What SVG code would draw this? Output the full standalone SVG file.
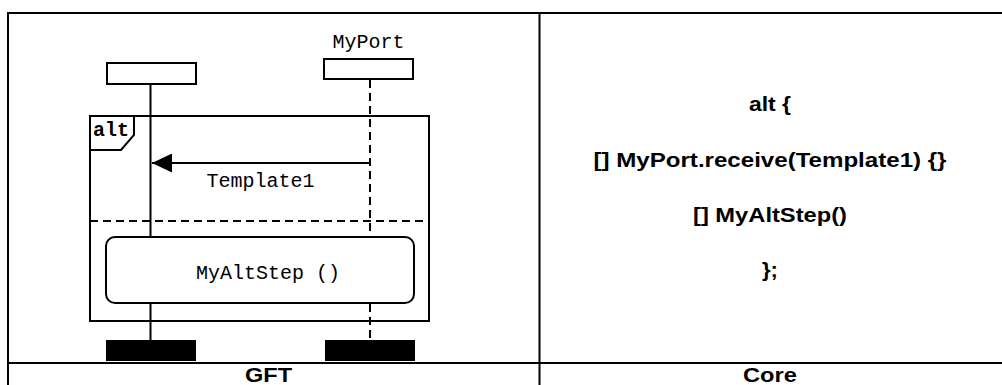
<svg xmlns="http://www.w3.org/2000/svg" width="1002" height="385" viewBox="0 0 1002 385">
<style>
.ln{stroke:#000;stroke-width:2;fill:none}
.bx{stroke:#000;stroke-width:2;fill:#fff}
.dash{stroke:#000;stroke-width:2;fill:none;stroke-dasharray:8,5}
.mono{font-family:"Liberation Mono","Courier New",monospace;font-size:20px;fill:#000}
.core{font-family:"Liberation Sans",Arial,sans-serif;font-size:21px;font-weight:bold;fill:#000;text-anchor:middle}
</style>
<defs>
<marker id="ah" markerWidth="20" markerHeight="19" refX="20" refY="9.5" orient="auto" markerUnits="userSpaceOnUse">
<path d="M0,0 L20,9.5 L0,19 Z" fill="#000"/>
</marker>
</defs>
<rect width="1002" height="385" fill="#fff"/>
<g id="table">
<line class="ln" x1="8" y1="13" x2="1002" y2="13"/>
<line class="ln" x1="8" y1="12" x2="8" y2="385"/>
<line class="ln" x1="539.5" y1="13" x2="539.5" y2="385"/>
<line class="ln" x1="8" y1="363" x2="1002" y2="363"/>
<text class="core" x="268.5" y="382" textLength="47" lengthAdjust="spacingAndGlyphs">GFT</text>
<text class="core" x="770" y="382" textLength="54" lengthAdjust="spacingAndGlyphs">Core</text>
</g>
<g id="alt-frame">
<rect class="ln" x="90" y="116" width="339" height="205"/>
<path class="ln" d="M90,150 L121,150 L134,135 L134,116"/>
<text class="mono" x="93" y="136" font-weight="bold">alt</text>
<line class="dash" x1="90" y1="221" x2="429" y2="221"/>
</g>
<g id="instance-left">
<rect class="bx" x="107" y="63" width="89" height="21"/>
<rect x="106" y="340" width="90" height="21" fill="#000"/>
</g>
<g id="instance-port">
<text class="mono" x="368.5" y="48" text-anchor="middle">MyPort</text>
<rect class="bx" x="324" y="59" width="89" height="20"/>
<rect x="325" y="340" width="90" height="21" fill="#000"/>
</g>
<g id="connectors">
<line class="ln" x1="150.5" y1="84" x2="150.5" y2="237"/>
<line class="ln" x1="150.5" y1="303" x2="150.5" y2="340"/>
<line class="dash" x1="370" y1="80" x2="370" y2="237"/>
<line class="dash" x1="370" y1="304" x2="370" y2="340"/>
<line class="ln" x1="370" y1="163" x2="152" y2="163" marker-end="url(#ah)"/>
<text class="mono" x="260.5" y="187" text-anchor="middle">Template1</text>
</g>
<g id="altstep">
<rect class="bx" x="106" y="237" width="308" height="66" rx="9" ry="9"/>
<text class="mono" x="268" y="279" text-anchor="middle">MyAltStep ()</text>
</g>
<g id="core-text">
<text class="core" x="770" y="111" textLength="42" lengthAdjust="spacingAndGlyphs">alt {</text>
<text class="core" x="770" y="167" textLength="353" lengthAdjust="spacingAndGlyphs">[] MyPort.receive(Template1) {}</text>
<text class="core" x="770" y="222" textLength="154" lengthAdjust="spacingAndGlyphs">[] MyAltStep()</text>
<text class="core" x="770" y="277" textLength="16" lengthAdjust="spacingAndGlyphs">};</text>
</g>
</svg>
